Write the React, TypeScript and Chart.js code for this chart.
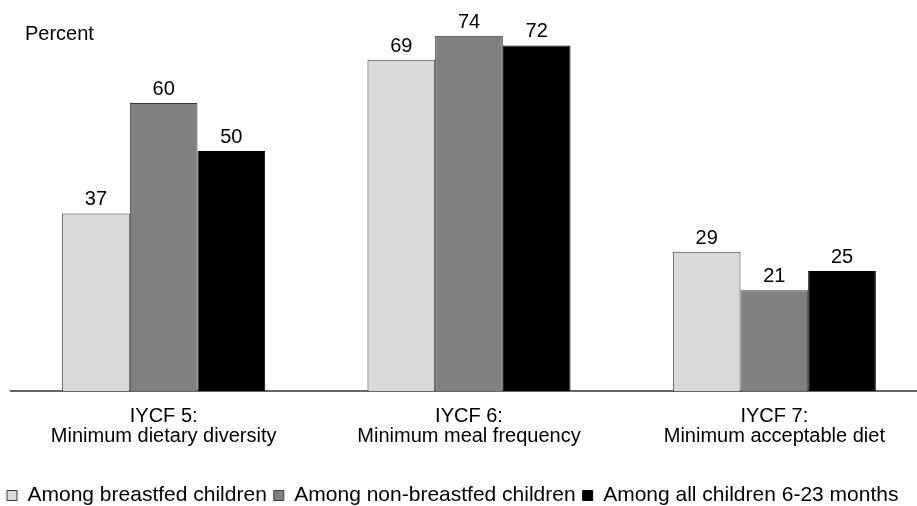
import React, { useEffect, useRef } from "react";
import { Chart, registerables } from "chart.js";

Chart.register(...registerables);

const categories: string[][] = [
  ["IYCF 5:", "Minimum dietary diversity"],
  ["IYCF 6:", "Minimum meal frequency"],
  ["IYCF 7:", "Minimum acceptable diet"],
];
const breastfed = [37, 69, 29];
const nonBreastfed = [60, 74, 21];
const allChildren = [50, 72, 25];
const seriesNames = [
  "Among breastfed children",
  "Among non-breastfed children",
  "Among all children 6-23 months",
];
const yAxisLabel = "Percent";

const FONT = "'Liberation Sans', Arial, Helvetica, sans-serif";

const valueLabels = {
  id: "valueLabels",
  afterDatasetsDraw(chart: any) {
    const ctx = chart.ctx;
    ctx.save();
    ctx.font = `20px ${FONT}`;
    ctx.fillStyle = "#000";
    ctx.textAlign = "center";
    ctx.textBaseline = "alphabetic";
    chart.data.datasets.forEach((ds: any, i: number) => {
      const meta = chart.getDatasetMeta(i);
      meta.data.forEach((bar: any, j: number) => {
        ctx.fillText(String(ds.data[j]), bar.x, bar.y - 8);
      });
    });
    ctx.textAlign = "left";
    ctx.fillText(yAxisLabel, 25, 40);
    ctx.restore();
  },
};

export default function App() {
  const ref = useRef<HTMLCanvasElement | null>(null);
  useEffect(() => {
    if (!ref.current) return;
    const chart = new Chart(ref.current, {
      type: "bar",
      data: {
        labels: categories,
        datasets: [
          {
            label: seriesNames[0],
            data: breastfed,
            backgroundColor: "#d9d9d9",
            borderColor: "#3a3a3a",
            borderWidth: 1,
          },
          {
            label: seriesNames[1],
            data: nonBreastfed,
            backgroundColor: "#808080",
            borderColor: "#3a3a3a",
            borderWidth: 1,
          },
          {
            label: seriesNames[2],
            data: allChildren,
            backgroundColor: "#000000",
            borderColor: "#000000",
            borderWidth: 1,
          },
        ],
      },
      options: {
        animation: false,
        responsive: true,
        maintainAspectRatio: false,
        layout: { padding: { left: 0, right: 8, top: 7, bottom: 0 } },
        datasets: {
          bar: { barPercentage: 1, categoryPercentage: 0.665 },
        },
        scales: {
          x: {
            grid: { display: false, drawTicks: false },
            border: { display: true, color: "#666", width: 2 },
            ticks: {
              color: "#000",
              font: { family: FONT, size: 20, lineHeight: 1 },
              padding: 15,
              maxRotation: 0,
              autoSkip: false,
            },
            afterFit: (scale: any) => {
              scale.height = 87;
            },
          },
          y: {
            display: true,
            min: 0,
            max: 80,
            grid: { display: false, drawTicks: false },
            border: { display: false },
            ticks: { display: false },
            afterFit: (scale: any) => {
              scale.width = 11;
            },
          },
        },
        plugins: {
          legend: {
            position: "bottom",
            align: "start",
            labels: {
              color: "#000",
              font: { family: FONT, size: 21 },
              boxWidth: 10,
              boxHeight: 10,
              padding: 7,
            },
          },
          tooltip: { enabled: false },
        },
      },
      plugins: [valueLabels],
    });
    return () => chart.destroy();
  }, []);
  return (
    <div
      style={{
        position: "fixed",
        left: 0,
        top: 0,
        width: 917,
        height: 506,
        overflow: "hidden",
        background: "#fff",
      }}
    >
      <div style={{ width: 935, height: 516 }}>
        <canvas ref={ref} />
      </div>
    </div>
  );
}
